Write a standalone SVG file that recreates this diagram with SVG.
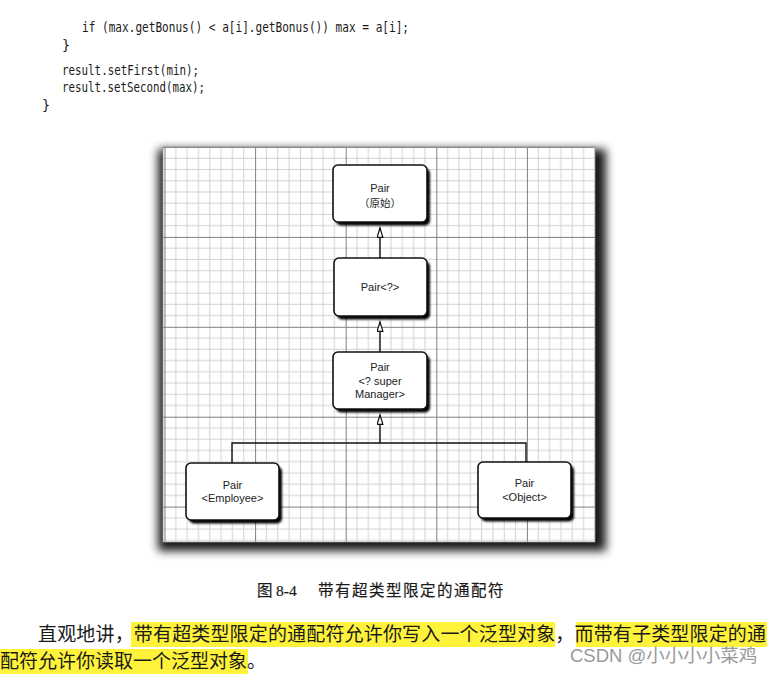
<svg xmlns="http://www.w3.org/2000/svg" width="776" height="676" viewBox="0 0 776 676">
<defs>
  <style>
    .code{font-family:"DejaVu Sans Mono","Liberation Mono",monospace;font-size:13.5px;fill:#1a1a1a}
    .nt{font-family:"Liberation Sans","Noto Sans CJK SC",sans-serif;font-size:11px;fill:#222;text-anchor:middle}
    .node{fill:#fff;stroke:#111;stroke-width:1.6}
    .nshadow{fill:#000;filter:url(#nblur)}
    .conn{stroke:#111;stroke-width:1.4;fill:none}
    .cap{font-family:"Liberation Serif","Noto Sans CJK SC",serif;font-size:15.5px;fill:#1a1a1a;stroke:#1a1a1a;stroke-width:0.2}
    .body{font-family:"Liberation Serif","Noto Sans CJK SC",serif;font-size:19px;fill:#1a1a1a}
    .hl{fill:#fff23a}
  </style>
  <filter id="nblur" x="-20%" y="-20%" width="140%" height="140%"><feGaussianBlur stdDeviation="1"/></filter>
  <filter id="pblur" x="-10%" y="-10%" width="120%" height="120%"><feGaussianBlur stdDeviation="5"/></filter>
  <pattern id="grid" patternUnits="userSpaceOnUse" x="164.5" y="147" width="90.6" height="89.9">
    <path d="M11.33 0V89.9M22.65 0V89.9M33.98 0V89.9M45.3 0V89.9M56.63 0V89.9M67.95 0V89.9M79.28 0V89.9M0 11.24H90.6M0 22.48H90.6M0 33.71H90.6M0 44.95H90.6M0 56.19H90.6M0 67.43H90.6M0 78.66H90.6" stroke="#d2d2d2" stroke-width="1" fill="none"/>
    <path d="M0.5 0V89.9M0 0.5H90.6" stroke="#808080" stroke-width="1" fill="none"/>
  </pattern>
  <marker id="tri" markerUnits="userSpaceOnUse" markerWidth="12" markerHeight="10" refX="10" refY="3.5" orient="auto">
    <path d="M0.7,0.6 L10,3.5 L0.7,6.4 Z" fill="#fff" stroke="#111" stroke-width="1.2"/>
  </marker>
</defs>
<rect width="776" height="676" fill="#fff"/>

<g id="code">
  <text class="code" x="82" y="32" textLength="327" lengthAdjust="spacingAndGlyphs">if (max.getBonus() &lt; a[i].getBonus()) max = a[i];</text>
  <text class="code" x="62" y="50">}</text>
  <text class="code" x="62" y="75" textLength="137" lengthAdjust="spacingAndGlyphs">result.setFirst(min);</text>
  <text class="code" x="62" y="92" textLength="143" lengthAdjust="spacingAndGlyphs">result.setSecond(max);</text>
  <text class="code" x="42" y="110">}</text>
</g>

<g id="panel">
  <rect x="158" y="149" width="448" height="402" fill="#000" opacity="0.9" filter="url(#pblur)"/>
  <rect x="163" y="147" width="432" height="395" fill="#fff"/>
  <rect x="163" y="147" width="432" height="395" fill="url(#grid)"/>
  <rect x="163" y="147" width="432" height="395" fill="none" stroke="#999" stroke-width="0.8"/>
</g>

<g id="connectors">
  <line class="conn" x1="380" y1="258" x2="380" y2="228" marker-end="url(#tri)"/>
  <line class="conn" x1="380" y1="352" x2="380" y2="322" marker-end="url(#tri)"/>
  <line class="conn" x1="380" y1="443" x2="380" y2="415" marker-end="url(#tri)"/>
  <path class="conn" d="M232 463V443H526V462"/>
</g>

<g id="n1">
  <rect class="nshadow" x="336" y="168.5" width="94" height="57" rx="5"/>
  <rect class="node" x="333" y="165" width="94" height="57" rx="5"/>
  <text class="nt" x="380" y="192">Pair</text>
  <text class="nt" x="380" y="207" style="font-size:10.5px">（原始）</text>
</g>
<g id="n2">
  <rect class="nshadow" x="337" y="261.5" width="93" height="58" rx="5"/>
  <rect class="node" x="334" y="258" width="93" height="58" rx="5"/>
  <text class="nt" x="380" y="291">Pair&lt;?&gt;</text>
</g>
<g id="n3">
  <rect class="nshadow" x="336" y="355.5" width="94" height="57" rx="5"/>
  <rect class="node" x="333" y="352" width="94" height="57" rx="5"/>
  <text class="nt" x="380" y="371">Pair</text>
  <text class="nt" x="380" y="385">&lt;? super</text>
  <text class="nt" x="380" y="398">Manager&gt;</text>
</g>
<g id="n4">
  <rect class="nshadow" x="189" y="466.5" width="93" height="57" rx="5"/>
  <rect class="node" x="186" y="463" width="93" height="57" rx="5"/>
  <text class="nt" x="232.5" y="489">Pair</text>
  <text class="nt" x="232.5" y="502">&lt;Employee&gt;</text>
</g>
<g id="n5">
  <rect class="nshadow" x="481" y="465.5" width="93" height="56" rx="5"/>
  <rect class="node" x="478" y="462" width="93" height="56" rx="5"/>
  <text class="nt" x="524.5" y="487">Pair</text>
  <text class="nt" x="524.5" y="501">&lt;Object&gt;</text>
</g>

<g id="caption">
  <text class="cap" x="257" y="596">图</text>
  <text class="cap" x="276" y="596">8-4</text>
  <text class="cap" x="318" y="596" style="letter-spacing:1.5px">带有超类型限定的通配符</text>
</g>

<g id="body">
  <rect class="hl" x="131" y="622" width="424" height="25"/>
  <rect class="hl" x="576" y="622" width="191" height="25"/>
  <rect class="hl" x="0" y="649" width="248" height="25"/>
  <text class="body" x="38" y="641" textLength="728" lengthAdjust="spacing">直观地讲，带有超类型限定的通配符允许你写入一个泛型对象，而带有子类型限定的通</text>
  <text class="body" x="0" y="668" textLength="266" lengthAdjust="spacing">配符允许你读取一个泛型对象。</text>
  <text x="570" y="662" style="font-family:'Liberation Sans','Noto Sans CJK SC',sans-serif;font-size:18.5px;fill:#9a9a9a">CSDN @小小小小菜鸡</text>
</g>
</svg>
